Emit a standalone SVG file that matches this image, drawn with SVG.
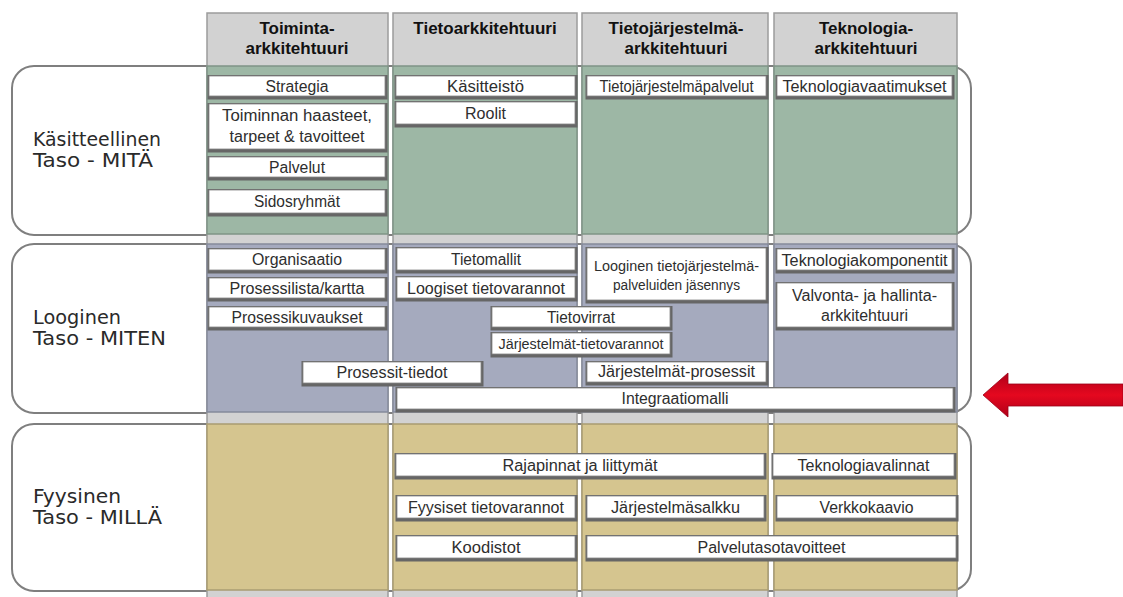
<svg xmlns="http://www.w3.org/2000/svg" width="1123" height="597" viewBox="0 0 1123 597">
<defs>
<style>
.row{fill:#fff;stroke:#7f7f7f;stroke-width:2}
.col{fill:#d2d2d2;stroke:#9c9c9c;stroke-width:1.5}
.g{fill:#9db7a5;stroke:#7f9486;stroke-width:1.5}
.b{fill:#a5aabe;stroke:#858a9b;stroke-width:1.5}
.t{fill:#d5c58f;stroke:#a99c72;stroke-width:1.5}
.sh{fill:#666}
.bx{fill:#fff;stroke:#858585;stroke-width:0.8}
.tx{font-family:"Liberation Sans Narrow","Liberation Sans",Arial,sans-serif;font-size:16px;fill:#2e2e2e;text-anchor:middle}
.sm{font-size:14px}
.hd{font-family:"Liberation Sans",Arial,sans-serif;font-weight:bold;font-size:17px;fill:#111;text-anchor:middle}
.lb{font-family:"DejaVu Sans",Verdana,sans-serif;font-size:19px;fill:#2a2a2a}
</style>
<linearGradient id="red" x1="0" y1="0" x2="0" y2="1">
<stop offset="0" stop-color="#b00019"/>
<stop offset="0.5" stop-color="#e5081f"/>
<stop offset="1" stop-color="#b00019"/>
</linearGradient>
</defs>
<rect width="1123" height="597" fill="#fff"/>

<!-- row containers -->
<g id="row-kasitteellinen"><rect class="row" x="12" y="66" width="959" height="169" rx="22"/></g>
<g id="row-looginen"><rect class="row" x="12" y="244" width="959" height="169" rx="22"/></g>
<g id="row-fyysinen"><rect class="row" x="12" y="424" width="959" height="167" rx="22"/></g>

<!-- columns -->
<g id="col-toiminta">
<rect class="col" x="207" y="13" width="181" height="590"/>
<rect class="g" x="207" y="66" width="181" height="168"/>
<rect class="b" x="207" y="244" width="181" height="168"/>
<rect class="t" x="207" y="424" width="181" height="166"/>
<text class="hd" x="297" y="34">Toiminta-</text>
<text class="hd" x="297" y="54">arkkitehtuuri</text>
</g>
<g id="col-tieto">
<rect class="col" x="393" y="13" width="184" height="590"/>
<rect class="g" x="393" y="66" width="184" height="168"/>
<rect class="b" x="393" y="244" width="184" height="168"/>
<rect class="t" x="393" y="424" width="184" height="166"/>
<text class="hd" x="485" y="34">Tietoarkkitehtuuri</text>
</g>
<g id="col-tietojarjestelma">
<rect class="col" x="582" y="13" width="186" height="590"/>
<rect class="g" x="582" y="66" width="186" height="168"/>
<rect class="b" x="582" y="244" width="186" height="168"/>
<rect class="t" x="582" y="424" width="186" height="166"/>
<text class="hd" x="676" y="34">Tietojärjestelmä-</text>
<text class="hd" x="676" y="54">arkkitehtuuri</text>
</g>
<g id="col-teknologia">
<rect class="col" x="774" y="13" width="183" height="590"/>
<rect class="g" x="774" y="66" width="183" height="168"/>
<rect class="b" x="774" y="244" width="183" height="168"/>
<rect class="t" x="774" y="424" width="183" height="166"/>
<text class="hd" x="866" y="34">Teknologia-</text>
<text class="hd" x="866" y="54">arkkitehtuuri</text>
</g>

<!-- row labels -->
<g id="label-kasitteellinen"><text class="lb" x="33" y="146" textLength="128" lengthAdjust="spacingAndGlyphs">Käsitteellinen</text><text class="lb" x="33" y="167" textLength="120" lengthAdjust="spacingAndGlyphs">Taso - MITÄ</text></g>
<g id="label-looginen"><text class="lb" x="33" y="324" textLength="88" lengthAdjust="spacingAndGlyphs">Looginen</text><text class="lb" x="33" y="345" textLength="133" lengthAdjust="spacingAndGlyphs">Taso - MITEN</text></g>
<g id="label-fyysinen"><text class="lb" x="33" y="503" textLength="88" lengthAdjust="spacingAndGlyphs">Fyysinen</text><text class="lb" x="33" y="524" textLength="129" lengthAdjust="spacingAndGlyphs">Taso - MILLÄ</text></g>

<!-- conceptual row -->
<g id="strategia"><rect class="sh" x="207.5" y="75" width="180" height="24.5"/><rect class="bx" x="209" y="76" width="176" height="20"/><text class="tx" x="297" y="92" textLength="63" lengthAdjust="spacingAndGlyphs">Strategia</text></g>
<g id="toiminnan-haasteet"><rect class="sh" x="207.5" y="103" width="180" height="49.5"/><rect class="bx" x="209" y="104" width="176" height="45"/><text class="tx" x="297" y="121" textLength="150" lengthAdjust="spacingAndGlyphs">Toiminnan haasteet,</text><text class="tx" x="297" y="142" textLength="135" lengthAdjust="spacingAndGlyphs">tarpeet &amp; tavoitteet</text></g>
<g id="palvelut"><rect class="sh" x="207.5" y="156" width="180" height="24.5"/><rect class="bx" x="209" y="157" width="176" height="20"/><text class="tx" x="297" y="173" textLength="56" lengthAdjust="spacingAndGlyphs">Palvelut</text></g>
<g id="sidosryhmat"><rect class="sh" x="207.5" y="189" width="180" height="27.5"/><rect class="bx" x="209" y="190" width="176" height="23"/><text class="tx" x="297" y="207" textLength="86" lengthAdjust="spacingAndGlyphs">Sidosryhmät</text></g>
<g id="kasitteisto"><rect class="sh" x="394.5" y="75" width="183" height="24.5"/><rect class="bx" x="396" y="76" width="179" height="20"/><text class="tx" x="485.5" y="92" textLength="77" lengthAdjust="spacingAndGlyphs">Käsitteistö</text></g>
<g id="roolit"><rect class="sh" x="394.5" y="101" width="183" height="26.5"/><rect class="bx" x="396" y="102" width="179" height="22"/><text class="tx" x="485.5" y="119" textLength="41" lengthAdjust="spacingAndGlyphs">Roolit</text></g>
<g id="tietojarjestelmapalvelut"><rect class="sh" x="585.5" y="75" width="183" height="24.5"/><rect class="bx" x="587" y="76" width="179" height="20"/><text class="tx" x="676.5" y="92" textLength="154" lengthAdjust="spacingAndGlyphs">Tietojärjestelmäpalvelut</text></g>
<g id="teknologiavaatimukset"><rect class="sh" x="775.5" y="75" width="179" height="24.5"/><rect class="bx" x="777" y="76" width="175" height="20"/><text class="tx" x="864.5" y="92" textLength="164" lengthAdjust="spacingAndGlyphs">Teknologiavaatimukset</text></g>

<!-- logical row -->
<g id="organisaatio"><rect class="sh" x="207.5" y="248" width="180" height="25.5"/><rect class="bx" x="209" y="249" width="176" height="21"/><text class="tx" x="297" y="265" textLength="90" lengthAdjust="spacingAndGlyphs">Organisaatio</text></g>
<g id="prosessilista"><rect class="sh" x="207.5" y="277" width="180" height="24.5"/><rect class="bx" x="209" y="278" width="176" height="20"/><text class="tx" x="297" y="294" textLength="135" lengthAdjust="spacingAndGlyphs">Prosessilista/kartta</text></g>
<g id="prosessikuvaukset"><rect class="sh" x="207.5" y="306" width="180" height="24.5"/><rect class="bx" x="209" y="307" width="176" height="20"/><text class="tx" x="297" y="323" textLength="131" lengthAdjust="spacingAndGlyphs">Prosessikuvaukset</text></g>
<g id="tietomallit"><rect class="sh" x="395.5" y="247" width="182" height="26.5"/><rect class="bx" x="397" y="248" width="178" height="22"/><text class="tx" x="486" y="265" textLength="70" lengthAdjust="spacingAndGlyphs">Tietomallit</text></g>
<g id="loogiset-tietovarannot"><rect class="sh" x="395.5" y="276" width="182" height="25.5"/><rect class="bx" x="397" y="277" width="178" height="21"/><text class="tx" x="486" y="294" textLength="158" lengthAdjust="spacingAndGlyphs">Loogiset tietovarannot</text></g>
<g id="looginen-tietojarjestelma"><rect class="sh" x="585.5" y="247" width="183" height="56.5"/><rect class="bx" x="587" y="248" width="179" height="52"/><text class="tx sm" x="676.5" y="271" textLength="165" lengthAdjust="spacingAndGlyphs">Looginen tietojärjestelmä-</text><text class="tx sm" x="676.5" y="290" textLength="127" lengthAdjust="spacingAndGlyphs">palveluiden jäsennys</text></g>
<g id="teknologiakomponentit"><rect class="sh" x="775.5" y="248" width="179" height="25.5"/><rect class="bx" x="777" y="249" width="175" height="21"/><text class="tx" x="864.5" y="266" textLength="166" lengthAdjust="spacingAndGlyphs">Teknologiakomponentit</text></g>
<g id="valvonta"><rect class="sh" x="775.5" y="282" width="179" height="48.5"/><rect class="bx" x="777" y="283" width="175" height="44"/><text class="tx" x="864.5" y="301" textLength="145" lengthAdjust="spacingAndGlyphs">Valvonta- ja hallinta-</text><text class="tx" x="864.5" y="321" textLength="87" lengthAdjust="spacingAndGlyphs">arkkitehtuuri</text></g>
<g id="tietovirrat"><rect class="sh" x="490.5" y="306" width="182" height="24.5"/><rect class="bx" x="492" y="307" width="178" height="20"/><text class="tx" x="581" y="323" textLength="68" lengthAdjust="spacingAndGlyphs">Tietovirrat</text></g>
<g id="jarjestelmat-tietovarannot"><rect class="sh" x="490.5" y="332" width="182" height="25.5"/><rect class="bx" x="492" y="333" width="178" height="21"/><text class="tx sm" x="581" y="349" textLength="165" lengthAdjust="spacingAndGlyphs">Järjestelmät-tietovarannot</text></g>
<g id="prosessit-tiedot"><rect class="sh" x="301.5" y="361" width="182" height="25.5"/><rect class="bx" x="303" y="362" width="178" height="21"/><text class="tx" x="392" y="378" textLength="111" lengthAdjust="spacingAndGlyphs">Prosessit-tiedot</text></g>
<g id="jarjestelmat-prosessit"><rect class="sh" x="585.5" y="361" width="183" height="24.5"/><rect class="bx" x="587" y="362" width="179" height="20"/><text class="tx" x="676.5" y="377" textLength="157" lengthAdjust="spacingAndGlyphs">Järjestelmät-prosessit</text></g>
<g id="integraatiomalli"><rect class="sh" x="395.5" y="387" width="560" height="25.5"/><rect class="bx" x="397" y="388" width="556" height="21"/><text class="tx" x="675" y="404" textLength="107" lengthAdjust="spacingAndGlyphs">Integraatiomalli</text></g>

<!-- physical row -->
<g id="rajapinnat"><rect class="sh" x="394.5" y="453" width="372" height="26.5"/><rect class="bx" x="396" y="454" width="368" height="22"/><text class="tx" x="580" y="471" textLength="155" lengthAdjust="spacingAndGlyphs">Rajapinnat ja liittymät</text></g>
<g id="teknologiavalinnat"><rect class="sh" x="771.5" y="453" width="185" height="26.5"/><rect class="bx" x="773" y="454" width="181" height="22"/><text class="tx" x="863.5" y="471" textLength="132" lengthAdjust="spacingAndGlyphs">Teknologiavalinnat</text></g>
<g id="fyysiset-tietovarannot"><rect class="sh" x="395.5" y="495" width="182" height="26.5"/><rect class="bx" x="397" y="496" width="178" height="22"/><text class="tx" x="486" y="513" textLength="156" lengthAdjust="spacingAndGlyphs">Fyysiset tietovarannot</text></g>
<g id="jarjestelmasalkku"><rect class="sh" x="585.5" y="495" width="181" height="26.5"/><rect class="bx" x="587" y="496" width="177" height="22"/><text class="tx" x="675.5" y="513" textLength="129" lengthAdjust="spacingAndGlyphs">Järjestelmäsalkku</text></g>
<g id="verkkokaavio"><rect class="sh" x="775.5" y="495" width="183" height="26.5"/><rect class="bx" x="777" y="496" width="179" height="22"/><text class="tx" x="866.5" y="513" textLength="94" lengthAdjust="spacingAndGlyphs">Verkkokaavio</text></g>
<g id="koodistot"><rect class="sh" x="395.5" y="535" width="182" height="26.5"/><rect class="bx" x="397" y="536" width="178" height="22"/><text class="tx" x="486" y="553" textLength="69" lengthAdjust="spacingAndGlyphs">Koodistot</text></g>
<g id="palvelutasotavoitteet"><rect class="sh" x="585.5" y="535" width="373" height="26.5"/><rect class="bx" x="587" y="536" width="369" height="22"/><text class="tx" x="771.5" y="553" textLength="148" lengthAdjust="spacingAndGlyphs">Palvelutasotavoitteet</text></g>

<!-- connectors -->
<g id="connectors">
<polygon points="983,395 1008,373 1008,384 1123,384 1123,406 1008,406 1008,417" fill="url(#red)" stroke="#9a0016" stroke-width="0.8"/>
</g>
</svg>
